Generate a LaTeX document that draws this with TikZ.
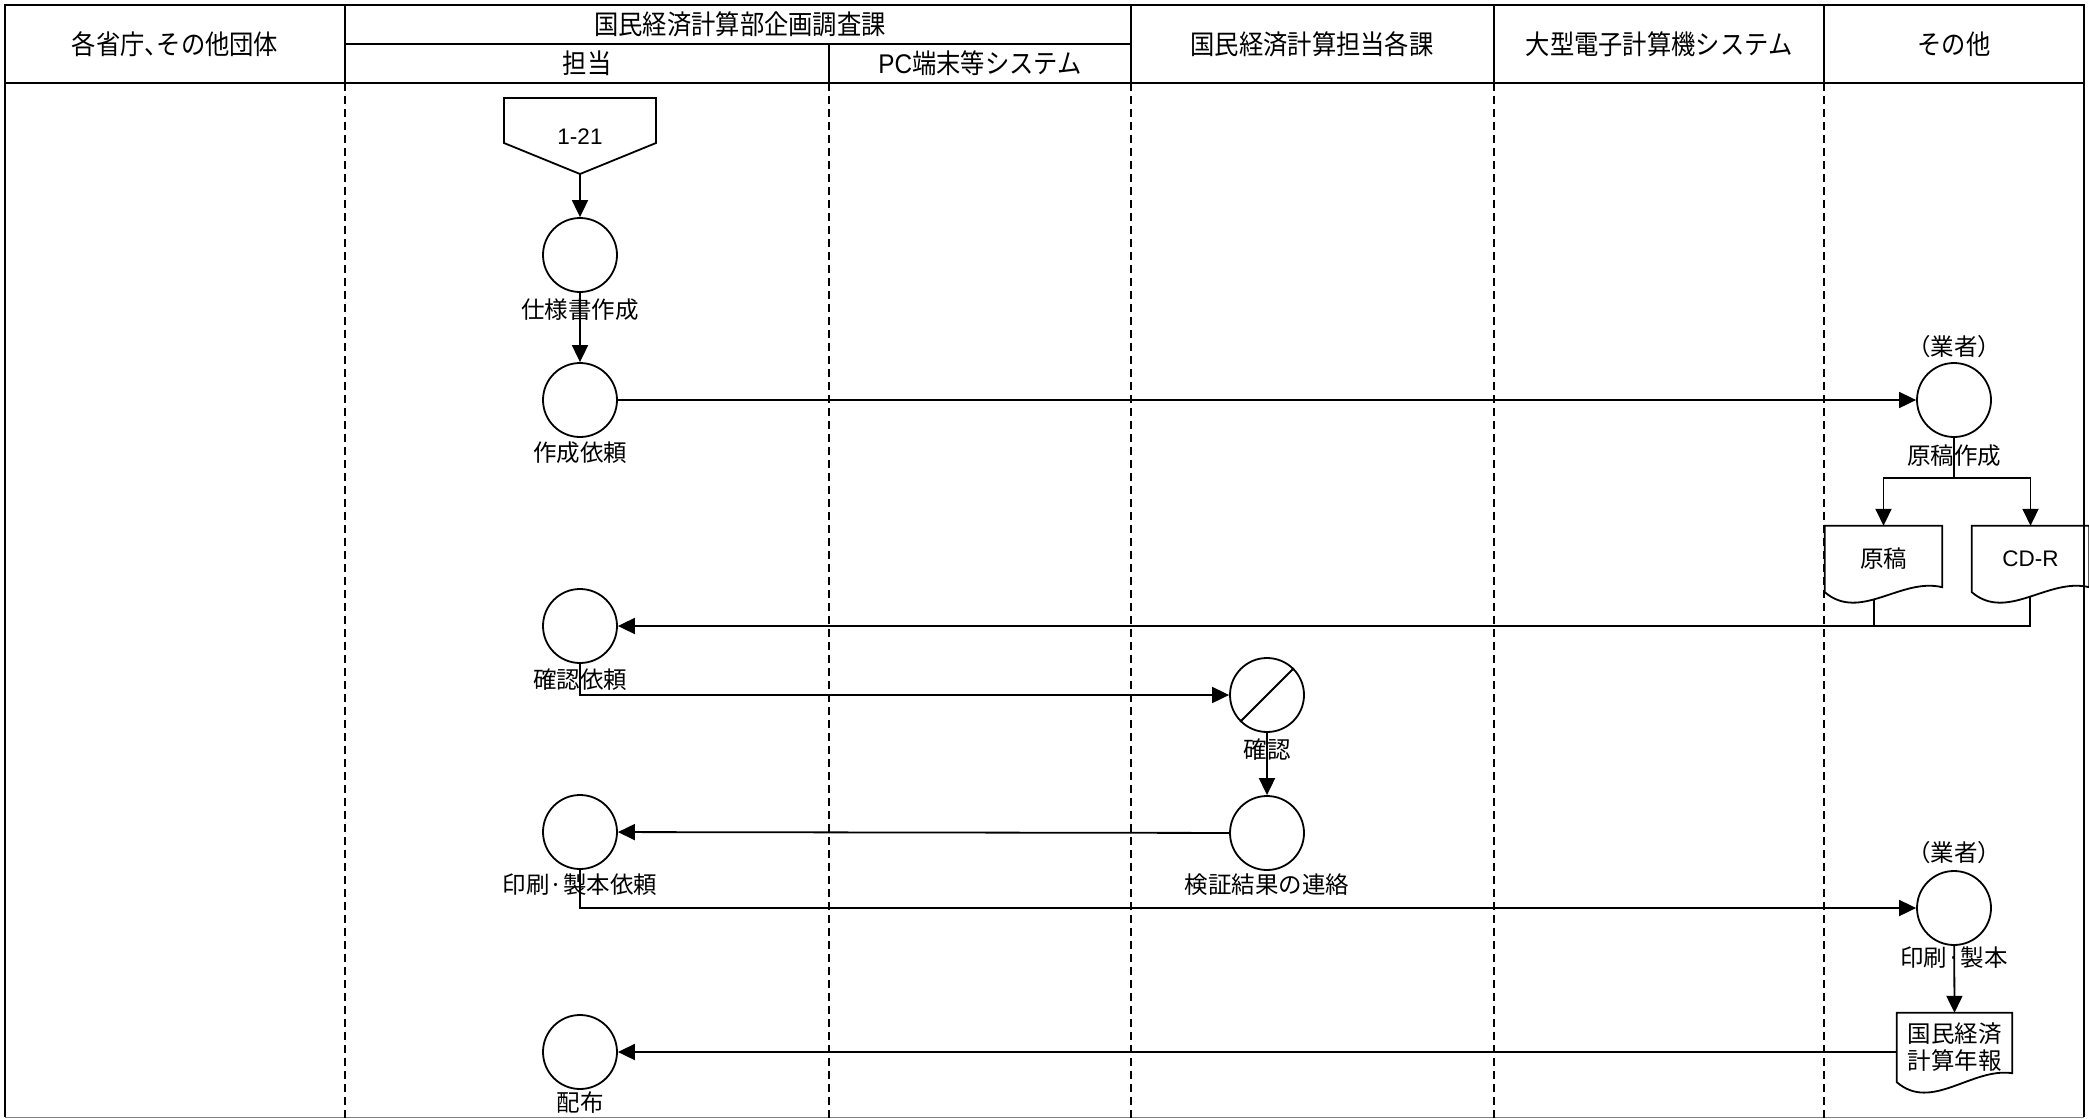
\documentclass[tikz,border=0pt]{standalone}
\usepackage{fontspec}
\setmainfont{Liberation Sans}
\newfontfamily\jp{Noto Sans CJK JP}
\newfontfamily\jph[RawFeature=+halt]{Noto Sans CJK JP}
\newfontfamily\jphd[FakeStretch=0.9]{Noto Sans CJK JP}
\newfontfamily\jphdh[FakeStretch=0.9,RawFeature=+halt]{Noto Sans CJK JP}
\newfontfamily\lathd[FakeStretch=0.9]{Liberation Sans}
\usetikzlibrary{arrows.meta,calc}
\newcommand\jpf{\fontsize{23.5}{27}\selectfont\jp}
\newcommand\jphf{\fontsize{23.5}{27}\selectfont\jph}
\newcommand\hdf{\fontsize{27}{30}\selectfont\jphd}
\newcommand\hdhf{\fontsize{27}{30}\selectfont\jphdh}
\newcommand\latf{\fontsize{22.5}{27}\selectfont}
\newcommand\docpath[2]{\draw[ln] (#1.south west) -- (#1.north west) -- (#1.north east) -- ($(#1.south east)+(0,#2)$) .. controls ($(#1.south west)!0.65!(#1.south east)+(0,-15)$) and ($(#1.south west)!0.3!(#1.south east)+(0,30)$) .. (#1.south west) -- cycle;}
\begin{document}
\begin{tikzpicture}[x=1pt,y=-1pt,line join=miter,
  ln/.style={line width=1.8pt},
  proc/.style={circle,draw,line width=1.8pt,minimum size=74pt,inner sep=0pt},
  lbl/.style={font=\jpf,inner sep=0pt},
  lblh/.style={font=\jphf,inner sep=0pt},
  lat/.style={font=\latf,inner sep=0pt},
  hdr/.style={font=\hdf,inner sep=0pt},
  hdrh/.style={font=\hdhf,inner sep=0pt},
  docbox/.style={minimum width=117pt,minimum height=66pt,inner sep=0pt,font=\jpf,align=center},
  arr/.style={line width=1.8pt,-{Triangle[length=17pt,width=16pt]}},
  frame/.style={line width=2pt},
  lane/.style={line width=1.5pt,dash pattern=on 8pt off 5pt}]
\useasboundingbox (0,0) rectangle (2089,1119);
% frame and header
\draw[frame] (5,1117) -- (5,5) -- (2084,5) -- (2084,1117);
\draw[line width=1pt,gray] (5,1117) -- (2084,1117);
\draw[frame] (5,83) -- (2084,83);
\draw[frame] (345,44) -- (1131,44);
\foreach \x in {345,1131,1494,1824} \draw[frame] (\x,5) -- (\x,83);
\draw[frame] (829,44) -- (829,83);
\foreach \x in {345,829,1131,1494,1824} \draw[lane] (\x,83) -- (\x,1119);
\node[hdrh] (h1) at (175,44) {各省庁、その他団体};
\node[hdr] (h2) at (740,24) {国民経済計算部企画調査課};
\node[hdr] (h3) at (587,63) {担当};
\node[hdr] (h4) at (980,63) {\lathd PC\jphd 端末等システム};
\node[hdr] (h5) at (1312,44) {国民経済計算担当各課};
\node[hdr] (h6) at (1659,44) {大型電子計算機システム};
\node[hdr] (h7) at (1954,44) {その他};
% off-page connector
\draw[ln] (504,98) -- (656,98) -- (656,143) -- (580,174) -- (504,143) -- cycle;
\node[lat] (op) at (580,137) {1-21};
\coordinate (optip) at (580,174);
% processes
\node[proc] (c1) at (580,255) {};
\node[lbl] (l1) at (580,310) {仕様書作成};
\node[proc] (c2) at (580,400) {};
\node[lbl] (l2) at (580,453) {作成依頼};
\node[proc] (c3) at (580,626) {};
\node[lbl] (l3) at (580,680) {確認依頼};
\node[proc] (c4) at (580,832) {};
\node[lbl] (l4) at (580,885) {印刷·製本依頼};
\node[proc] (c5) at (580,1052) {};
\node[lbl] (l5) at (580,1103) {配布};
\node[proc] (cA) at (1954,400) {};
\node[lblh] (lAa) at (1954,347) {（業者）};
\node[lbl] (lAb) at (1954,456) {原稿作成};
\node[proc] (cK) at (1267,695) {};
\draw[ln] (cK.south west) -- (cK.north east);
\node[lbl] (lK) at (1267,750) {確認};
\node[proc] (cV) at (1267,833) {};
\node[lbl] (lV) at (1267,885) {検証結果の連絡};
\node[proc] (cB) at (1954,908) {};
\node[lblh] (lBa) at (1954,853) {（業者）};
\node[lbl] (lBb) at (1954,958) {印刷·製本};
% documents
\node[docbox] (genko) at (1883.5,559) {原稿};
\docpath{genko}{-5}
\node[docbox,font=\latf] (cdr) at (2030.5,559) {CD-R};
\docpath{cdr}{-5}
\node[docbox,minimum width=115pt,minimum height=69pt] (nenpo) at (1954.5,1047.5) {国民経済\\計算年報};
\docpath{nenpo}{-9}
% connectors
\draw[arr] (optip) -- (c1);
\draw[arr] (c1) -- (c2);
\draw[arr] (c2) -- (cA);
\coordinate (split) at (1954,478);
\draw[ln] (cA.south) -- (split);
\draw[arr] (split) -| (genko.north);
\draw[arr] (split) -| (cdr.north);
\coordinate (gb) at ($(genko.south)+(-9.5,7)$);
\coordinate (cb) at ($(cdr.south)+(-0.5,4)$);
\draw[ln] (gb) -- (gb |- c3);
\draw[arr] (cb) |- (c3);
\draw[arr] (c3.south) |- (cK);
\draw[arr] (cK) -- (cV);
\draw[arr] (cV) -- (c4);
\draw[arr] (c4.south) |- (cB);
\draw[arr] (cB) -- (nenpo.north);
\draw[arr] (nenpo.west |- c5) -- (c5);
\end{tikzpicture}
\end{document}
